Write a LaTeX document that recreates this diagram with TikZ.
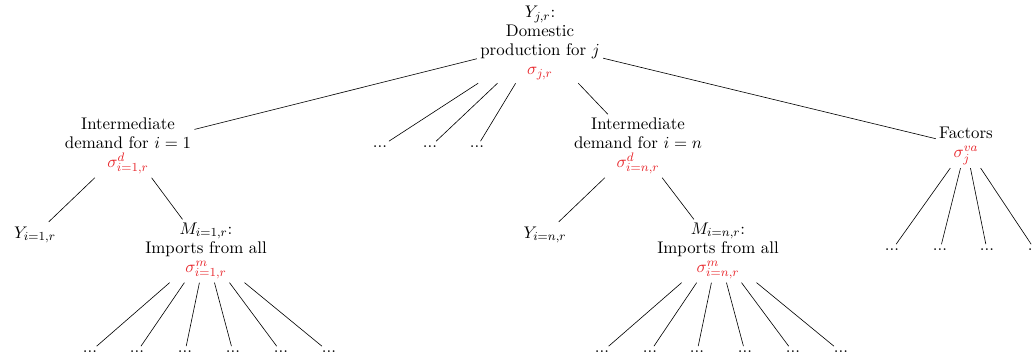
\documentclass[tikz,border=0pt]{standalone}
\usetikzlibrary{positioning}
\definecolor{sigred}{RGB}{232,40,45}

\begin{document}
\begin{tikzpicture}
[
						x=0.65pt, y=-0.65pt,
						font=\fontsize{10.95}{12.4}\selectfont,
						nest/.style = {align=center, inner sep=2pt},
						leaf/.style = {inner sep=3pt}
					]
\useasboundingbox (0,0) rectangle (1032,360);
\node[nest] (top) at (540,43) {$Y_{j,r}$:\\Domestic\\production for $j$\\\textcolor{sigred}{$\sigma_{j,r}$}};
\node[nest] (int1) at (128,146) {Intermediate\\demand for $i=1$\\\textcolor{sigred}{$\sigma^{d}_{i=1,r}$}};
\node[leaf] (d1) at (380,147) {...};
\node[leaf] (d2) at (430,147) {...};
\node[leaf] (d3) at (477,147) {...};
\node[nest] (intn) at (638,146) {Intermediate\\demand for $i=n$\\\textcolor{sigred}{$\sigma^{d}_{i=n,r}$}};
\node[nest] (fac) at (966,146) {Factors\\\textcolor{sigred}{$\sigma^{va}_{j}$}};
\node[leaf] (y1) at (35,235) {$Y_{i=1,r}$};
\node[nest] (m1) at (206,251) {$M_{i=1,r}$:\\Imports from all\\\textcolor{sigred}{$\sigma^{m}_{i=1,r}$}};
\node[leaf] (yn) at (545,235) {$Y_{i=n,r}$};
\node[nest] (mn) at (718,251) {$M_{i=n,r}$:\\Imports from all\\\textcolor{sigred}{$\sigma^{m}_{i=n,r}$}};
\node[leaf] (f1) at (892,250) {...};
\node[leaf] (f2) at (940,250) {...};
\node[leaf] (f3) at (987,250) {...};
\node[leaf] (f4) at (1035,250) {...};
\node[leaf] (a1) at (90,352) {...};
\node[leaf] (a2) at (137,352) {...};
\node[leaf] (a3) at (185,352) {...};
\node[leaf] (a4) at (233,352) {...};
\node[leaf] (a5) at (281,352) {...};
\node[leaf] (a6) at (329,352) {...};
\node[leaf] (b1) at (602,352) {...};
\node[leaf] (b2) at (650,352) {...};
\node[leaf] (b3) at (697,352) {...};
\node[leaf] (b4) at (745,352) {...};
\node[leaf] (b5) at (793,352) {...};
\node[leaf] (b6) at (841,352) {...};

\draw (top) -- (int1);
\draw (top) -- (d1);
\draw (top) -- (d2);
\draw (top) -- (d3);
\draw (top) -- (intn);
\draw (top) -- (fac);
\draw (int1) -- (y1);
\draw (int1) -- (m1);
\draw (intn) -- (yn);
\draw (intn) -- (mn);
\draw (fac) -- (f1);
\draw (fac) -- (f2);
\draw (fac) -- (f3);
\draw (fac) -- (f4);
\draw (m1) -- (a1);
\draw (m1) -- (a2);
\draw (m1) -- (a3);
\draw (m1) -- (a4);
\draw (m1) -- (a5);
\draw (m1) -- (a6);
\draw (mn) -- (b1);
\draw (mn) -- (b2);
\draw (mn) -- (b3);
\draw (mn) -- (b4);
\draw (mn) -- (b5);
\draw (mn) -- (b6);
\end{tikzpicture}
\end{document}
